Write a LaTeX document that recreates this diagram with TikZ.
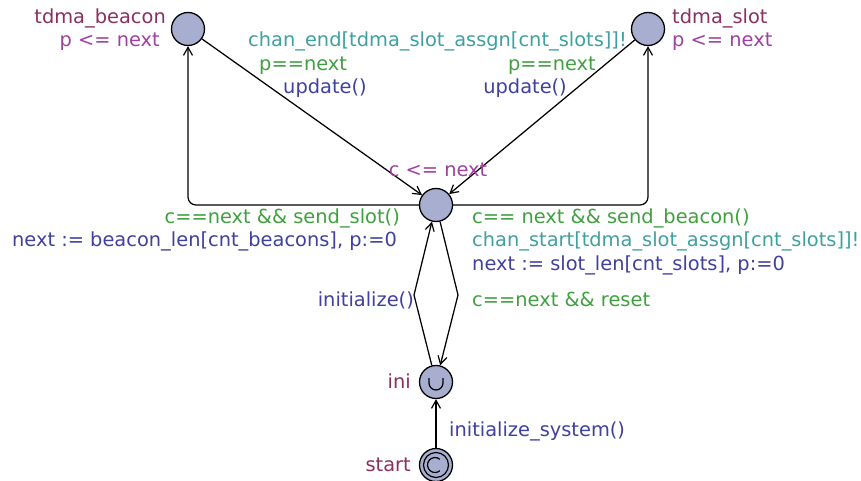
\documentclass[tikz,border=0pt]{standalone}
\usepackage{fontspec}
\setmainfont{DejaVu Sans}
\usetikzlibrary{arrows.meta}

\definecolor{locname}{RGB}{138,48,96}
\definecolor{invcol}{RGB}{160,64,160}
\definecolor{guardcol}{RGB}{64,160,64}
\definecolor{synccol}{RGB}{64,160,160}
\definecolor{updcol}{RGB}{64,64,160}
\definecolor{locfill}{RGB}{168,174,208}

\tikzset{
  loc/.style={circle, draw=black, line width=1.3pt, fill=locfill,
              minimum size=33pt, inner sep=0pt},
  edge/.style={draw=black, line width=1.25pt,
               -{Straight Barb[length=8pt,width=9pt,line width=1.2pt]}},
  lbl/.style={font=\fontsize{19.4}{23}\selectfont, inner sep=0pt},
  nm/.style={lbl, text=locname},
  inv/.style={lbl, text=invcol},
  grd/.style={lbl, text=guardcol},
  syn/.style={lbl, text=synccol},
  upd/.style={lbl, text=updcol},
  symline/.style={line width=1.2pt},
}

\begin{document}
\begin{tikzpicture}[x=1pt, y=-1pt]
\useasboundingbox (0,0) rectangle (861,481);

% locations
\node[loc] (beacon) at (188,29) {};
\node[loc] (slot)   at (648,29) {};
\node[loc] (hub)    at (436,205) {};
\node[loc] (ini)    at (436,382) {};
\node[loc] (start)  at (436,465) {};

% urgent symbol inside ini
\draw[symline] ([shift={(-7pt,4pt)}]ini.center) -- ([shift={(-7pt,-1pt)}]ini.center)
  arc[start angle=180, end angle=360, radius=7pt] -- ([shift={(7pt,4pt)}]ini.center);
% initial + committed symbols inside start
\draw[symline] (start.center) circle[radius=12.5pt];
\draw[symline] ([shift={(-1pt,0pt)}]start.center) ++(50:7.5pt) arc[start angle=50, end angle=310, radius=7.5pt];

% via points
\coordinate (upL) at (414,295);
\coordinate (dnR) at (458,295);

% edges
\draw[edge, rounded corners=8pt] (hub.west) -| (beacon.south);
\draw[edge, rounded corners=8pt] (hub.east) -| (slot.south);
\draw[edge] (beacon) -- (hub);
\draw[edge] (slot) -- (hub);
\draw[edge] (ini) -- (upL) -- (hub);
\draw[edge] (hub) -- (dnR) -- (ini);
\draw[edge] (start) -- (ini);

% location labels
\node[nm, anchor=base east] (nbeacon) at (166,24) {tdma\_beacon};
\node[inv, anchor=base east] (ibeacon) at (160,47) {p <= next};
\node[nm, anchor=base west] (nslot) at (672,24) {tdma\_slot};
\node[inv, anchor=base west] (islot) at (672,47) {p <= next};
\node[inv, anchor=base] (ihub) at (438,176) {c <= next};
\node[nm, anchor=base east] (nini) at (411,388) {ini};
\node[nm, anchor=base east] (nstart) at (411,471) {start};

% beacon -> hub
\node[syn, anchor=base west] (s1) at (248,47) {chan\_end[tdma\_slot\_assgn[cnt\_slots]]!};
\node[grd, anchor=base west] (g1) at (259,71) {p==next};
\node[upd, anchor=base west] (u1) at (283,94) {update()};

% slot -> hub
\node[grd, anchor=base east] (g2) at (596,71) {p==next};
\node[upd, anchor=base east] (u2) at (567,94) {update()};

% hub -> beacon
\node[grd, anchor=base east] (g3) at (400,223) {c==next \&\& send\_slot()};
\node[upd, anchor=base east] (u3) at (397,246) {next := beacon\_len[cnt\_beacons], p:=0};

% hub -> slot
\node[grd, anchor=base west] (g4) at (472,223) {c== next \&\& send\_beacon()};
\node[syn, anchor=base west] (s4) at (472,246) {chan\_start[tdma\_slot\_assgn[cnt\_slots]]!};
\node[upd, anchor=base west] (u4) at (472,270) {next := slot\_len[cnt\_slots], p:=0};

% ini <-> hub
\node[upd, anchor=base east] (u5) at (414,306) {initialize()};
\node[grd, anchor=base west] (g6) at (472,306) {c==next \&\& reset};

% start -> ini
\node[upd, anchor=base west] (u7) at (449,436) {initialize\_system()};
\end{tikzpicture}
\end{document}
